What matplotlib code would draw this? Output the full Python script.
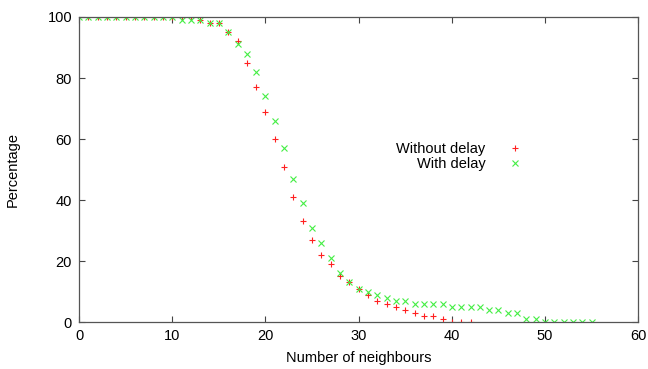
import matplotlib
matplotlib.use("Agg")
import matplotlib.pyplot as plt

plt.rcParams['font.family'] = ['Liberation Sans', 'DejaVu Sans']

# without delay (red +)
x_nodelay = list(range(0, 43))
y_nodelay = [100, 100, 100, 100, 100, 100, 100, 100, 100, 100,
             100, 100, 100, 99, 98, 98, 95, 92, 85, 77,
             69, 60, 51, 41, 33, 27, 22, 19, 15, 13,
             11, 9, 7, 6, 5, 4, 3, 2, 2, 1,
             0, 0, 0]

# with delay (green x)
x_delay = list(range(0, 56))
y_delay = [100, 100, 100, 100, 100, 100, 100, 100, 100, 100,
           100, 99, 99, 99, 98, 98, 95, 91, 88, 82,
           74, 66, 57, 47, 39, 31, 26, 21, 16, 13,
           11, 10, 9, 8, 7, 7, 6, 6, 6, 6,
           5, 5, 5, 5, 4, 4, 3, 3, 1, 1,
           0, 0, 0, 0, 0, 0]

fig = plt.figure(figsize=(6.48, 3.69), dpi=100)
ax = fig.add_axes([0.122, 0.127, 0.863, 0.827])

ax.plot(x_nodelay, y_nodelay, ls="none", marker="+", ms=5, mew=0.8,
        color="#ff2020", label="Without delay")
ax.plot(x_delay, y_delay, ls="none", marker="x", ms=4.5, mew=0.8,
        color="#44ee44", label="With delay")

ax.set_xlim(0, 60)
ax.set_ylim(0, 100)
ax.set_xticks(range(0, 61, 10))
ax.set_yticks(range(0, 101, 20))
ax.tick_params(direction="in", top=True, right=True, length=4,
               width=0.8, color="#444444", labelsize=10.5, pad=5)
for s in ax.spines.values():
    s.set_color("#555555")
    s.set_linewidth(0.9)

ax.set_xlabel("Number of neighbours", fontsize=10.5, labelpad=6)
ax.set_ylabel("Percentage", fontsize=10.5, labelpad=20)

# key: text right-justified, sample after it (gnuplot style)
leg = ax.legend(loc="center right", bbox_to_anchor=(0.800, 0.543),
                markerfirst=False, frameon=False, fontsize=10.5,
                handlelength=0.7, handletextpad=1.7, labelspacing=0.1,
                borderaxespad=0)

fig.savefig("out.png", dpi=100)
